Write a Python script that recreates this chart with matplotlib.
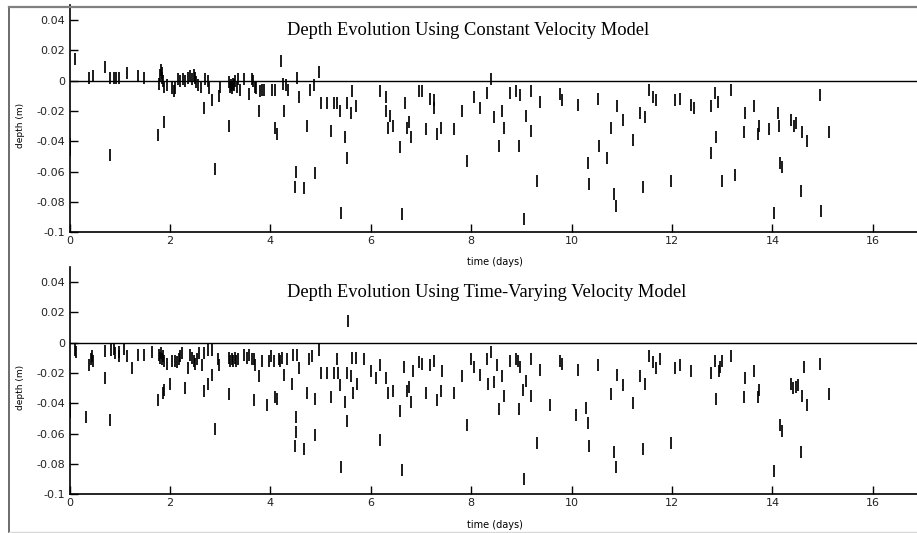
import matplotlib
matplotlib.use("Agg")
import matplotlib.pyplot as plt
from matplotlib.lines import Line2D

# ---------------- data ----------------
const_t = [0.00, 0.00, 0.10, 0.38, 0.47, 0.70, 0.81, 0.81, 0.88, 0.93, 0.98, 1.14, 1.36, 1.48,
           1.76, 1.78, 1.80, 1.82, 1.84, 1.85, 1.87, 1.88, 1.89, 1.95, 2.04, 2.08, 2.10, 2.15,
           2.20, 2.25, 2.30, 2.35, 2.40, 2.44, 2.47, 2.50, 2.52, 2.56, 2.62, 2.68, 2.70, 2.76,
           2.77, 2.84, 2.90, 2.97, 2.99, 3.17, 3.17, 3.19, 3.22, 3.24, 3.26, 3.28, 3.30, 3.33,
           3.36, 3.40, 3.47, 3.57, 3.63, 3.66, 3.70, 3.72, 3.77, 3.80, 3.84, 3.88, 4.03, 4.09,
           4.09, 4.13, 4.22, 4.25, 4.28, 4.31, 4.35, 4.49, 4.50, 4.52, 4.57, 4.67, 4.73, 4.78,
           4.86, 4.88, 4.96, 5.00, 5.13, 5.21, 5.26, 5.33, 5.38, 5.41, 5.49, 5.52, 5.53, 5.60,
           5.63, 5.71, 6.18, 6.31, 6.31, 6.34, 6.39, 6.44, 6.58, 6.62, 6.68, 6.73, 6.77, 6.80,
           6.97, 7.02, 7.09, 7.17, 7.25, 7.25, 7.32, 7.39, 7.65, 7.82, 7.92, 8.05, 8.17, 8.32,
           8.40, 8.45, 8.56, 8.61, 8.66, 8.78, 8.90, 8.98, 8.96, 9.06, 9.10, 9.20, 9.20, 9.31,
           9.38, 9.76, 9.81, 10.12, 10.32, 10.34, 10.52, 10.54, 10.70, 10.79, 10.84, 10.89,
           10.91, 11.02, 11.23, 11.37, 11.46, 11.42, 11.55, 11.62, 11.69, 11.98, 12.06, 12.15,
           12.38, 12.43, 12.77, 12.77, 12.85, 12.91, 12.87, 13.00, 13.17, 13.25, 13.43, 13.46,
           13.64, 13.71, 13.73, 13.94, 14.04, 14.12, 14.14, 14.16, 14.20, 14.38, 14.43, 14.48,
           14.57, 14.59, 14.69, 14.94, 14.97, 15.12]
const_d = [-0.046, -0.042, 0.014, 0.0015, 0.003, 0.009, -0.049, 0.002, 0.002, 0.002, 0.002, 0.005,
           0.003, 0.002, -0.036, -0.002, 0.004, 0.007, 0.002, 0.005, 0.000, -0.004, -0.027, -0.003,
           -0.005, -0.007, -0.005, 0.001, 0.000, 0.001, 0.000, 0.002, 0.003, 0.001, 0.004, 0.002,
           -0.001, -0.003, -0.004, -0.018, 0.001, 0.000, -0.005, -0.013, -0.058, -0.010, -0.004,
           -0.030, -0.001, -0.004, -0.003, -0.005, -0.002, -0.003, 0.000, -0.004, 0.001, -0.006,
           0.001, -0.009, 0.001, 0.000, -0.004, -0.005, -0.020, -0.007, -0.006, -0.006, -0.006,
           -0.006, -0.031, -0.035, 0.013, -0.002, -0.020, -0.003, -0.006, -0.070, -0.060, 0.002,
           -0.011, -0.071, -0.030, -0.006, -0.003, -0.061, 0.006, -0.015, -0.015, -0.033, -0.015,
           -0.015, -0.020, -0.087, -0.037, -0.051, -0.015, -0.021, -0.007, -0.017, -0.007, -0.011,
           -0.020, -0.031, -0.023, -0.030, -0.044, -0.088, -0.015, -0.031, -0.027, -0.037, -0.007,
           -0.007, -0.032, -0.012, -0.013, -0.018, -0.035, -0.031, -0.032, -0.020, -0.053, -0.011,
           -0.018, -0.008, 0.001, -0.024, -0.043, -0.020, -0.031, -0.008, -0.007, -0.0095, -0.043,
           -0.091, -0.023, -0.007, -0.033, -0.066, -0.014, -0.009, -0.013, -0.016, -0.054, -0.068,
           -0.012, -0.043, -0.051, -0.031, -0.075, -0.083, -0.017, -0.026, -0.039, -0.021, -0.024,
           -0.070, -0.006, -0.011, -0.013, -0.066, -0.013, -0.012, -0.016, -0.018, -0.017, -0.048,
           -0.008, -0.014, -0.037, -0.066, -0.006, -0.062, -0.034, -0.021, -0.017, -0.035, -0.030,
           -0.032, -0.087, -0.021, -0.030, -0.054, -0.057, -0.026, -0.030, -0.028, -0.073, -0.034,
           -0.040, -0.0095, -0.086, -0.034]

tv_t = [0.00, 0.00, 0.10, 0.13, 0.33, 0.38, 0.43, 0.46, 0.45, 0.70, 0.70, 0.81, 0.82, 0.88, 0.91,
        0.98, 0.99, 1.08, 1.14, 1.24, 1.36, 1.48, 1.65, 1.76, 1.78, 1.80, 1.82, 1.84, 1.86, 1.88,
        1.87, 1.89, 1.94, 2.00, 2.04, 2.09, 2.13, 2.18, 2.20, 2.24, 2.29, 2.36, 2.39, 2.44, 2.47,
        2.50, 2.53, 2.58, 2.63, 2.67, 2.68, 2.76, 2.76, 2.84, 2.84, 2.90, 2.95, 2.98, 3.17, 3.17,
        3.20, 3.23, 3.26, 3.29, 3.32, 3.35, 3.47, 3.54, 3.58, 3.63, 3.67, 3.67, 3.70, 3.77, 3.83,
        3.93, 3.97, 4.02, 4.07, 4.10, 4.14, 4.17, 4.20, 4.23, 4.28, 4.34, 4.43, 4.45, 4.52, 4.56,
        4.50, 4.50, 4.49, 4.67, 4.73, 4.76, 4.83, 4.88, 4.88, 4.96, 5.00, 5.13, 5.21, 5.26, 5.33,
        5.35, 5.38, 5.41, 5.49, 5.52, 5.55, 5.53, 5.60, 5.63, 5.65, 5.71, 5.73, 5.87, 6.00, 6.10,
        6.18, 6.18, 6.31, 6.34, 6.44, 6.58, 6.63, 6.67, 6.73, 6.77, 6.80, 6.85, 6.97, 7.02, 7.09,
        7.17, 7.25, 7.32, 7.39, 7.42, 7.65, 7.82, 7.92, 8.00, 8.05, 8.17, 8.32, 8.33, 8.40, 8.45,
        8.51, 8.56, 8.61, 8.66, 8.78, 8.90, 8.93, 8.98, 8.96, 9.04, 9.10, 9.06, 9.20, 9.20, 9.31,
        9.38, 9.56, 9.76, 9.81, 10.09, 10.12, 10.28, 10.32, 10.34, 10.52, 10.79, 10.84, 10.89,
        10.91, 11.02, 11.23, 11.37, 11.46, 11.42, 11.55, 11.62, 11.69, 11.77, 11.98, 12.06, 12.15,
        12.38, 12.77, 12.85, 12.88, 12.93, 12.96, 13.00, 13.17, 13.43, 13.46, 13.64, 13.71, 13.73,
        14.04, 14.16, 14.20, 14.38, 14.41, 14.48, 14.51, 14.57, 14.59, 14.62, 14.69, 14.94, 15.12]
tv_d = [-0.046, -0.043, -0.005, -0.006, -0.049, -0.015, -0.011, -0.012, -0.009, -0.023, -0.0055,
        -0.051, -0.005, -0.004, -0.007, -0.009, -0.006, -0.004, -0.009, -0.017, -0.008, -0.008,
        -0.006, -0.038, -0.008, -0.010, -0.007, -0.011, -0.009, -0.012, -0.033, -0.031, -0.014,
        -0.027, -0.012, -0.012, -0.013, -0.011, -0.0085, -0.007, -0.030, -0.017, -0.008, -0.010,
        -0.012, -0.014, -0.011, -0.007, -0.015, -0.032, -0.007, -0.005, -0.027, -0.005, -0.021,
        -0.057, -0.011, -0.015, -0.034, -0.010, -0.012, -0.011, -0.012, -0.010, -0.012, -0.011,
        -0.008, -0.010, -0.008, -0.011, -0.038, -0.011, -0.015, -0.022, -0.012, -0.041, -0.012,
        -0.009, -0.012, -0.036, -0.037, -0.011, -0.012, -0.010, -0.021, -0.011, -0.027, -0.008,
        -0.008, -0.017, -0.049, -0.059, -0.068, -0.070, -0.033, -0.011, -0.009, -0.037, -0.061,
        -0.005, -0.020, -0.020, -0.036, -0.020, -0.011, -0.020, -0.028, -0.082, -0.039, -0.052,
        0.014, -0.020, -0.022, -0.010, -0.033, -0.010, -0.027, -0.011, -0.019, -0.023, -0.015,
        -0.064, -0.023, -0.033, -0.032, -0.045, -0.084, -0.016, -0.032, -0.029, -0.039, -0.019,
        -0.013, -0.014, -0.033, -0.015, -0.012, -0.038, -0.032, -0.019, -0.033, -0.022, -0.054,
        -0.011, -0.016, -0.021, -0.011, -0.027, -0.006, -0.026, -0.015, -0.044, -0.022, -0.035,
        -0.012, -0.011, -0.012, -0.016, -0.044, -0.031, -0.025, -0.090, -0.011, -0.035, -0.066,
        -0.018, -0.041, -0.012, -0.014, -0.048, -0.018, -0.043, -0.053, -0.068, -0.015, -0.034,
        -0.072, -0.082, -0.021, -0.028, -0.040, -0.022, -0.027, -0.070, -0.009, -0.013, -0.017,
        -0.011, -0.066, -0.017, -0.015, -0.019, -0.020, -0.012, -0.037, -0.019, -0.016, -0.012,
        -0.0085, -0.036, -0.023, -0.019, -0.036, -0.031, -0.085, -0.054, -0.058, -0.027, -0.030,
        -0.029, -0.028, -0.072, -0.035, -0.016, -0.041, -0.014, -0.034]

titles = ["Depth Evolution Using Constant Velocity Model",
          "Depth Evolution Using Time-Varying Velocity Model"]
x_ticks = [0, 2, 4, 6, 8, 10, 12, 14, 16]
x_tick_labels = ["0", "2", "4", "6", "8", "10", "12", "14", "16"]
y_ticks = [-0.1, -0.08, -0.06, -0.04, -0.02, 0, 0.02, 0.04]
y_tick_labels = ["-0.1", "-0.08", "-0.06", "-0.04", "-0.02", "0", "0.02", "0.04"]
x_label = "time (days)"
y_label = "depth (m)"

# ---------------- figure ----------------
W, H = 917, 533
fig = plt.figure(figsize=(W / 100, H / 100), dpi=100)
fig.patch.set_facecolor("white")

left = 69.6 / W
width = 17 * 50.2 / W
height = 0.15 * 1515 / H
bottoms = [(H - 232.2) / H, (H - 494.2) / H]
xlabel_y = [-0.131, -0.135]

series = [(const_t, const_d), (tv_t, tv_d)]
for i, ((t, d), title) in enumerate(zip(series, titles)):
    ax = fig.add_axes([left, bottoms[i], width, height])
    ax.set_xlim(0, 17)
    ax.set_ylim(-0.1, 0.05)
    ax.axhline(0, color="black", lw=1.0, zorder=2)
    ax.plot(t, d, linestyle="none", marker="|", markersize=8,
            markeredgewidth=1.25, color="black", zorder=3)
    ax.set_xticks(x_ticks)
    ax.set_xticklabels(x_tick_labels)
    ax.set_yticks(y_ticks)
    ax.set_yticklabels(y_tick_labels)
    ax.tick_params(direction="in", length=6, width=1.0, color="black",
                   labelsize=8, pad=3)
    for lab in ax.get_xticklabels() + ax.get_yticklabels():
        lab.set_family("DejaVu Sans")
        lab.set_color("#222222")
    for s in ["top", "right"]:
        ax.spines[s].set_visible(False)
    for s in ["left", "bottom"]:
        ax.spines[s].set_linewidth(1.2)
        ax.spines[s].set_color("black")
    ax.set_xlabel(x_label, fontsize=7, family="DejaVu Sans", va="center")
    ax.xaxis.set_label_coords(0.4985, xlabel_y[i])
    ax.set_ylabel(y_label, fontsize=6.5, family="DejaVu Sans", va="center")
    ax.yaxis.set_label_coords(-0.058, 0.47)
    ax.text(4.33, 0.033, title, family="Liberation Serif", fontsize=13.3,
            ha="left", va="center")

# outer frame lines (top and left, gray)
fig.add_artist(Line2D([9 / W, 9 / W], [0, (H - 6.7) / H], transform=fig.transFigure,
                      color="#606060", lw=1.3))
fig.add_artist(Line2D([9 / W, 1], [(H - 6.7) / H, (H - 6.7) / H], transform=fig.transFigure,
                      color="#808080", lw=1.6))
fig.add_artist(Line2D([9 / W, 1], [1.5 / H, 1.5 / H], transform=fig.transFigure,
                      color="#d8d8d8", lw=1.0))

fig.savefig("out.png", dpi=100, facecolor="white")
